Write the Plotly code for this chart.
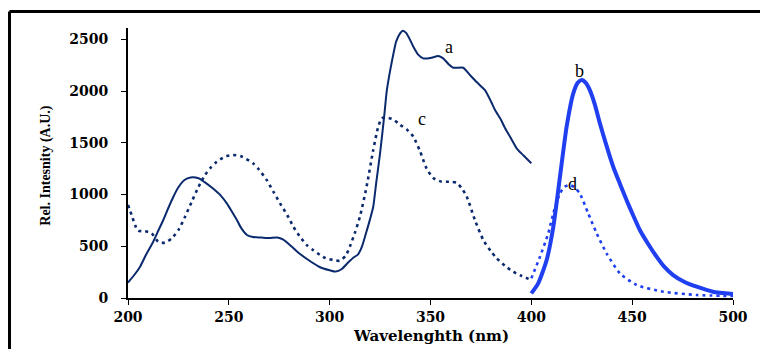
import plotly.graph_objects as go

# Curve a: solid navy (excitation)
a_x = [200, 203, 206, 209, 212.5, 215, 217.5, 220, 222.5, 225, 228, 231, 235, 238, 242, 246, 249, 252, 254, 256, 259, 262, 266, 270, 274, 277, 281, 285, 290, 295, 300, 303, 306, 309, 311.7, 314, 316, 318, 320, 321.6, 323, 325, 327, 328.3, 330, 331.5, 333, 335, 336.3, 338, 340, 341.5, 344, 346.4, 350, 353.9, 356.3, 359, 361.3, 366.2, 369.6, 373, 377, 380, 382, 385, 387, 390, 392.7, 396, 400]
a_y = [150, 220, 303, 420, 544, 650, 754, 870, 979, 1070, 1140, 1165, 1157, 1120, 1060, 990, 915, 820, 754, 680, 609, 590, 585, 580, 585, 565, 500, 430, 360, 300, 268, 255, 280, 340, 390, 420, 496, 625, 760, 882, 1100, 1400, 1750, 2000, 2200, 2350, 2480, 2560, 2583, 2560, 2490, 2429, 2350, 2316, 2320, 2339, 2316, 2260, 2226, 2226, 2155, 2085, 2010, 1900, 1817, 1720, 1640, 1540, 1447, 1380, 1302]

# Curve c: dotted navy
c_x = [200, 201.8, 203.5, 205, 208.4, 211.7, 215, 218.3, 221.7, 225, 228.3, 231.6, 235, 238.2, 241, 244, 248, 252, 256, 262, 265, 268.8, 272, 275.4, 279, 282, 285, 288.6, 292, 295.2, 298, 301.8, 305, 308, 310, 312.5, 315, 318.3, 321.6, 324, 325.8, 328, 331.5, 335, 338.2, 341.5, 344.8, 348.1, 351.4, 355.5, 360, 363, 365.5, 368, 372, 376.2, 380, 382.8, 387, 391, 395, 400]
c_y = [899, 802, 705, 650, 645, 625, 544, 534, 577, 657, 786, 931, 1076, 1189, 1260, 1317, 1365, 1382, 1370, 1302, 1240, 1140, 1030, 915, 800, 689, 600, 512, 460, 416, 385, 367, 360, 410, 496, 630, 786, 1076, 1430, 1650, 1737, 1745, 1727, 1672, 1630, 1559, 1420, 1250, 1160, 1124, 1124, 1114, 1060, 979, 754, 560, 450, 384, 310, 254, 215, 174]

# Curve b: thick bright blue (emission)
b_x = [400, 403.4, 407.6, 410.9, 414.2, 417.5, 420.8, 423, 425, 427, 429, 431.5, 434, 437, 440.6, 444, 447.2, 450, 453.8, 458, 462.1, 466, 470.3, 476, 482, 490, 500]
b_y = [45, 142, 367, 689, 1172, 1655, 1978, 2080, 2107, 2080, 2010, 1870, 1688, 1490, 1269, 1100, 947, 820, 657, 520, 400, 300, 222, 155, 109, 61, 39]

# Curve d: dotted bright blue
d_x = [400, 404.3, 408.4, 410.9, 414.2, 416.5, 419.1, 421.5, 424, 428.2, 432.4, 437.3, 443.9, 452.2, 465.4, 482, 500]
d_y = [190, 400, 625, 818, 1012, 1075, 1092, 1070, 1012, 818, 625, 432, 239, 126, 61, 29, 19]

# Curve labels
lab_text = ["a", "b", "c", "d"]
lab_x = [359.1, 423.8, 345.6, 420.5]
lab_y = [2426, 2197, 1727, 1102]

x_ticks = [200, 250, 300, 350, 400, 450, 500]
y_ticks = [0, 500, 1000, 1500, 2000, 2500]

NAVY = "#0b2a6e"
BLUE = "#1f3ff0"

fig = go.Figure()
fig.add_trace(go.Scatter(x=c_x, y=c_y, mode="lines", line=dict(color=NAVY, width=2.6, dash="3px,4px", shape="spline", smoothing=0.6)))
fig.add_trace(go.Scatter(x=a_x, y=a_y, mode="lines", line=dict(color=NAVY, width=2, shape="spline", smoothing=0.6)))
fig.add_trace(go.Scatter(x=d_x, y=d_y, mode="lines", line=dict(color=BLUE, width=2.6, dash="3px,4px", shape="spline", smoothing=0.6)))
fig.add_trace(go.Scatter(x=b_x, y=b_y, mode="lines", line=dict(color=BLUE, width=4, shape="spline", smoothing=0.6)))

for t, x, y in zip(lab_text, lab_x, lab_y):
    fig.add_annotation(x=x, y=y, text=t, showarrow=False,
                       font=dict(family="Liberation Serif", size=18, color="black"))

# Axis titles
fig.add_annotation(xref="paper", yref="paper", x=0.5, y=-0.14, xanchor="center", yanchor="middle",
                   text="<b>Wavelenghth (nm)</b>",
                   showarrow=False, font=dict(family="DejaVu Serif", size=15, color="black"))
fig.add_annotation(xref="paper", yref="paper", x=-0.1355, y=0.49, xanchor="center", yanchor="middle",
                   text="<b>Rel. Intesnity (A.U.)</b>",
                   textangle=-90, showarrow=False, font=dict(family="Liberation Serif", size=14, color="black"))

# Frame lines (top and left)
W, H = 760, 341
L, T = 120, 20
PW, PH = 605, 270
fx = (1.5 - L) / PW
fy = 1 + (T - 3.5) / PH
fig.add_shape(type="line", xref="paper", yref="paper", x0=fx, x1=1.2, y0=fy, y1=fy,
              line=dict(color="black", width=3))
fig.add_shape(type="line", xref="paper", yref="paper", x0=fx, x1=fx, y0=-0.3, y1=fy,
              line=dict(color="black", width=3))

fig.update_layout(
    width=W, height=H,
    margin=dict(l=L, r=W - L - PW, t=T, b=H - T - PH),
    paper_bgcolor="white", plot_bgcolor="white",
    showlegend=False,
    xaxis=dict(range=[200, 500], tickvals=x_ticks, ticktext=[str(v) for v in x_ticks],
               showline=True, linecolor="black", linewidth=1.5, ticks="outside", ticklen=5,
               tickcolor="black", showgrid=False, zeroline=False, ticklabelstandoff=0,
               tickfont=dict(family="DejaVu Serif", size=14, color="black", weight="bold")),
    yaxis=dict(range=[0, 2610], tickvals=y_ticks, ticktext=[str(v) for v in y_ticks],
               showline=True, linecolor="black", linewidth=2, ticks="outside", ticklen=5,
               tickcolor="black", showgrid=False, zeroline=False, ticklabelstandoff=10,
               tickfont=dict(family="DejaVu Serif", size=14, color="black", weight="bold")),
)

fig.write_html("out.html")
